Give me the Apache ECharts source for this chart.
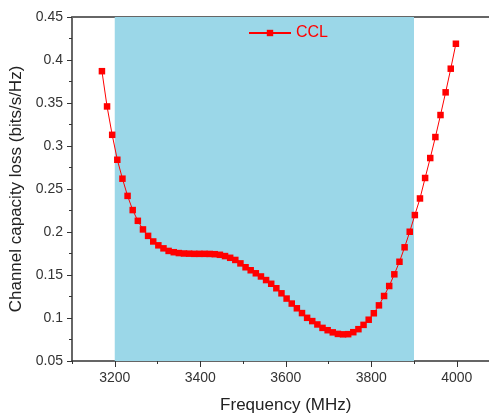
<!DOCTYPE html>
<html>
<head>
<meta charset="utf-8">
<script src="https://cdn.jsdelivr.net/npm/echarts@6/dist/echarts.min.js"></script>
<style>html,body{margin:0;padding:0;background:#fff}#c{width:489px;height:414px}</style>
</head>
<body>
<div id="c"></div>
<script>
// Frequencies (MHz)
const freqs = [];
for (let f = 3170; f <= 3998; f += 12) freqs.push(f);
// Channel capacity loss (bits/s/Hz)
const cclValues = [
  0.387, 0.346, 0.313, 0.284, 0.262, 0.242, 0.2255, 0.213, 0.203, 0.1955,
  0.189, 0.1845, 0.181, 0.178, 0.1765, 0.1755, 0.175, 0.1748, 0.1746, 0.1746,
  0.1746, 0.1745, 0.1742, 0.1735, 0.172, 0.170, 0.1675, 0.1635, 0.159, 0.1555,
  0.152, 0.1483, 0.1441, 0.1398, 0.1346, 0.1287, 0.1226, 0.1168, 0.1113, 0.1057,
  0.1002, 0.0964, 0.0925, 0.0885, 0.0858, 0.0833, 0.0815, 0.0810, 0.0812, 0.0835,
  0.0870, 0.092, 0.098, 0.1055, 0.1147, 0.1256, 0.1372, 0.1508, 0.1654, 0.1822,
  0.2003, 0.2197, 0.239, 0.2628, 0.286, 0.3104, 0.336, 0.3624, 0.3899, 0.4189
];
const xMajorTicks = [3200, 3400, 3600, 3800, 4000];
const xMinorTicks = [3100, 3300, 3500, 3700, 3900, 4100];
const bandRange = [3200, 3900];
const seriesName = 'CCL';

const data = freqs.map((f, i) => [f, cclValues[i]]);
const font = 'Liberation Sans, Arial, sans-serif';
const chart = echarts.init(document.getElementById('c'));
chart.setOption({
  animation: false,
  textStyle: { fontFamily: font },
  grid: { left: 72, top: 17, right: -10.5, bottom: 53, containLabel: false, outerBoundsMode: 'none' },
  legend: {
    data: [seriesName], left: 243, top: 20, itemWidth: 42, itemHeight: 8, itemGap: 3,
    textStyle: { color: '#ff0000', fontSize: 16, fontFamily: font }
  },
  xAxis: [
    {
      type: 'value', min: 3100, max: 4100, position: 'bottom',
      name: 'Frequency (MHz)', nameLocation: 'middle', nameGap: 36,
      nameTextStyle: { fontSize: 17, color: '#222', fontFamily: font },
      axisLine: { show: true, lineStyle: { color: '#333', width: 1.5 } },
      axisTick: { show: true, customValues: xMajorTicks, length: 6, lineStyle: { color: '#333' } },
      axisLabel: { customValues: xMajorTicks, fontSize: 14, color: '#333', margin: 10,
        formatter: v => String(v) },
      splitLine: { show: false }
    },
    {
      type: 'value', min: 3100, max: 4100, position: 'bottom',
      axisLine: { show: false },
      axisTick: { show: true, customValues: xMinorTicks, length: 3, lineStyle: { color: '#333' } },
      axisLabel: { show: false },
      splitLine: { show: false }
    },
    {
      type: 'value', min: 3100, max: 4100, position: 'top',
      axisLine: { show: true, lineStyle: { color: '#666', width: 2 } },
      axisTick: { show: false }, axisLabel: { show: false }, splitLine: { show: false }
    }
  ],
  yAxis: {
    type: 'value', min: 0.05, max: 0.45, interval: 0.05,
    name: 'Channel capacity loss (bits/s/Hz)', nameLocation: 'middle', nameGap: 42,
    nameTextStyle: { fontSize: 17, color: '#222', fontFamily: font },
    axisLine: { show: true, lineStyle: { color: '#333', width: 1.5 } },
    axisTick: { show: true, length: 5, lineStyle: { color: '#333' } },
    minorTick: { show: true, splitNumber: 2, length: 3, lineStyle: { color: '#333' } },
    axisLabel: { fontSize: 14, color: '#333', margin: 9 },
    splitLine: { show: false }
  },
  series: [{
    name: seriesName, type: 'line', data: data, xAxisIndex: 0,
    symbol: 'rect', symbolSize: 6.5,
    lineStyle: { color: '#ff0000', width: 1 },
    itemStyle: { color: '#ff0000' },
    markArea: {
      silent: true,
      itemStyle: { color: '#9bd7e8', opacity: 1 },
      data: [[{ xAxis: bandRange[0] }, { xAxis: bandRange[1] }]]
    },
    z: 3
  }]
});
</script>
</body>
</html>
